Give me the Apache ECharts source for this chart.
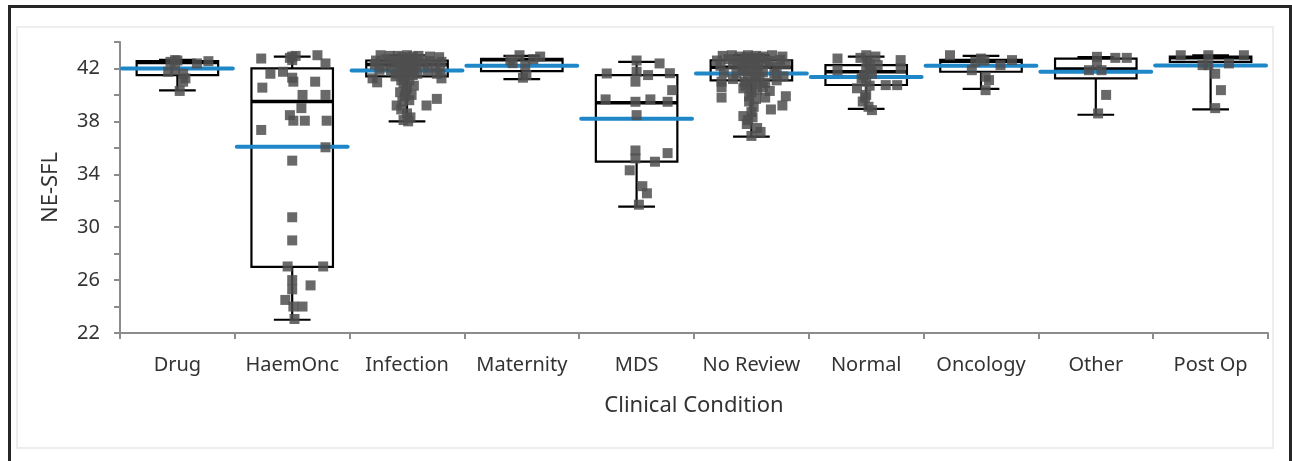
<!DOCTYPE html>
<html>
<head>
<meta charset="utf-8">
<script src="https://cdn.jsdelivr.net/npm/echarts@6/dist/echarts.min.js"></script>
<style>
html,body{margin:0;padding:0;background:#fff;}
#chart{width:1292px;height:461px;}
</style>
</head>
<body>
<div id="chart"></div>
<script>
// ---------- data ----------
var categories = ['Drug','HaemOnc','Infection','Maternity','MDS','No Review','Normal','Oncology','Other','Post Op'];
var boxMin    = [40.35, 23.0, 38.0, 41.2, 31.55, 36.85, 38.95, 40.45, 38.5, 38.9];
var boxQ1     = [41.5, 27.0, 41.4, 41.8, 34.95, 41.1, 40.75, 41.75, 41.25, 42.5];
var boxMedian = [42.45, 39.5, 42.3, 42.65, 39.4, 42.1, 41.75, 42.55, 41.95, 42.8];
var boxQ3     = [42.55, 42.0, 42.6, 42.72, 41.5, 42.62, 42.25, 42.65, 42.75, 42.9];
var boxMax    = [42.65, 42.9, 43.0, 42.95, 42.5, 43.0, 42.9, 42.95, 42.85, 43.0];
var means     = [42.0, 36.08, 41.85, 42.2, 38.2, 41.62, 41.35, 42.2, 41.75, 42.22];
var yTicks    = [22, 26, 30, 34, 38, 42];

// individual points: [jitter (category units), value]
var ptsDrug = [[-0.02,42.63],[0,42.6],[0.27,42.55],[0.17,42.38],[-0.06,42.5],[-0.08,41.75],[-0.02,41.87],[0.05,41.6],[0.07,41.25],[0.05,41.0],[0.02,40.3]];
var ptsHaemOnc = [[-0.27,42.75],[0,42.9],[-0.02,42.8],[0.03,42.95],[0.22,43.0],[0.29,42.38],[-0.19,41.6],[-0.08,41.75],[0,42.63],[0.01,41.0],[0,41.3],[0.2,41.0],[-0.26,40.55],[0.09,40.0],[0.29,40.0],[0.08,39.0],[-0.02,38.47],[0.01,38.05],[0.11,38.05],[0.3,38.05],[-0.27,37.35],[0.29,36.04],[0,35.03],[0,30.75],[0,29.0],[-0.04,27.03],[0.27,27.03],[0,26.0],[0.16,25.6],[0,25.3],[-0.06,24.5],[0.01,24.0],[0.09,24.0],[0.02,23.06]];
var ptsInfection = [[-0.23,43.0],[-0.15,42.95],[-0.08,42.95],[0,43.0],[0.05,42.9],[0.1,42.95],[0.2,42.9],[0.28,42.85],
  [-0.27,42.6],[-0.18,42.7],[-0.1,42.6],[-0.03,42.7],[0.03,42.75],[0.12,42.65],[0.2,42.55],[0.3,42.5],
  [-0.28,42.3],[-0.2,42.2],[-0.12,42.4],[-0.05,42.3],[0.02,42.4],[0.08,42.2],[0.15,42.35],[0.25,42.2],
  [-0.24,41.9],[-0.14,41.8],[-0.05,41.9],[0,41.7],[0.06,41.9],[0.18,41.8],[0.29,41.9],
  [-0.3,41.25],[-0.26,40.95],[-0.1,41.4],[-0.02,41.3],[0.05,41.5],[0.3,41.25],[0.26,41.6],
  [-0.03,40.9],[0,40.5],[-0.06,40.2],[-0.02,39.9],[0.02,39.6],[-0.09,39.2],[-0.05,38.9],[0,38.6],[0.03,38.3],[-0.03,38.1],[0.01,38.0],
  [0.17,39.2],[0.26,39.7],
  [-0.04,42.85],[0.04,42.6],[-0.07,42.45],[0.06,42.5],[0,42.15],[-0.04,42.0],[0.04,41.75],[0.09,41.6],[-0.08,41.6],[0.02,41.1],[-0.05,41.1],[0.06,40.7],[-0.01,40.3],[0.04,40.0],[-0.04,39.5]];
var ptsMaternity = [[-0.1,42.63],[-0.02,43.0],[0.16,42.9],[0.03,42.25],[-0.08,42.4],[0.04,41.5],[0.01,41.3],[0.1,42.7]];
var ptsMDS = [[0,42.6],[0.2,42.38],[-0.26,41.62],[0.29,41.64],[0.1,41.5],[0,41.75],[-0.01,41.0],[0.31,40.36],[-0.27,39.66],[0.12,39.66],[-0.01,39.48],[0.27,39.48],[0,38.47],[-0.01,35.8],[-0.01,35.2],[0.27,35.6],[0.16,34.95],[-0.06,34.3],[0.05,33.1],[0.09,32.56],[0.02,31.7]];
var ptsNoReview = [[-0.25,42.95],[-0.17,43.0],[-0.1,42.9],[-0.03,43.0],[0.04,42.95],[0.1,42.9],[0.18,43.0],[0.27,42.9],
  [-0.3,42.6],[-0.2,42.7],[-0.12,42.55],[-0.05,42.7],[0.02,42.6],[0.08,42.75],[0.16,42.55],[0.25,42.65],
  [-0.27,42.2],[-0.16,42.3],[-0.08,42.1],[0,42.3],[0.06,42.2],[0.13,42.35],[0.22,42.1],[0.3,42.3],
  [-0.24,41.7],[-0.13,41.6],[-0.04,41.8],[0.03,41.5],[0.1,41.7],[0.2,41.6],[0.28,41.4],
  [-0.26,41.0],[-0.16,41.2],[-0.06,41.0],[0.04,41.1],[0.12,40.9],[0.22,41.1],
  [-0.26,40.6],[-0.26,39.8],[-0.07,40.5],[0,40.2],[0.1,40.6],[0.12,39.8],[0.16,40.3],[0.3,39.9],[0.27,39.2],[0.17,38.9],
  [-0.02,39.5],[0.02,39.1],[-0.07,38.4],[0,38.7],[-0.03,38.1],[0.05,37.5],[0.08,37.2],[0,36.9],[-0.04,37.8],
  [-0.04,42.85],[0.05,42.8],[-0.08,42.45],[0.03,42.45],[-0.02,42.0],[0.05,41.95],[-0.07,41.85],[0.07,41.35],[-0.03,41.3],[0.01,40.8],[-0.05,40.7],[0.05,40.4],[-0.02,39.9],[0.04,39.7],[0.01,38.3]];
var ptsNormal = [[-0.25,42.75],[-0.25,41.87],[0,43.0],[0.01,42.5],[0.1,42.25],[0.3,42.63],[0.3,42.0],[0.17,40.74],[0.27,40.74],[-0.08,40.5],[0,40.0],[0.02,39.1],[0.05,38.85],[-0.04,41.25],[0,42.0],[0.05,41.6],[-0.05,42.8],[0.08,42.9],[0,41.0],[-0.03,39.5],[0.03,42.3],[-0.02,41.5],[0.03,40.7],[-0.01,39.8],[0.04,41.9]];
var ptsOncology = [[-0.27,43.0],[0,42.75],[0.03,42.6],[0.17,42.25],[0.27,42.63],[-0.08,41.87],[0.04,41.37],[0.07,41.12],[0.04,40.36],[-0.05,42.5]];
var ptsOther = [[0.01,42.88],[0.17,42.8],[0.27,42.8],[0.01,42.25],[-0.06,41.87],[0.05,41.87],[0.09,40.0],[0.02,38.6]];
var ptsPostOp = [[-0.26,43.0],[-0.02,43.0],[0.29,43.0],[-0.02,42.25],[0.16,42.38],[-0.07,42.25],[0.04,41.6],[0.09,40.36],[0.04,39.0]];
var pointGroups = [ptsDrug, ptsHaemOnc, ptsInfection, ptsMaternity, ptsMDS, ptsNoReview, ptsNormal, ptsOncology, ptsOther, ptsPostOp];

// ---------- build library data ----------
var boxData = categories.map(function(c,i){ return [i, boxMin[i], boxQ1[i], boxMedian[i], boxQ3[i], boxMax[i]]; });
var meanData = categories.map(function(c,i){ return [i, means[i]]; });
var scatterData = [];
pointGroups.forEach(function(g,i){ g.forEach(function(p){ scatterData.push([i + p[0], p[1]]); }); });

var chart = echarts.init(document.getElementById('chart'), null, {renderer:'canvas'});
var FONT = 'Noto Sans';
var option = {
  animation: false,
  backgroundColor: '#ffffff',
  graphic: [
    {type:'rect', silent:true, z:-10, shape:{x:17, y:27, width:1256, height:421}, style:{fill:'none', stroke:'#eeeeee', lineWidth:2}},
    {type:'rect', silent:true, z:100, shape:{x:9.5, y:6.5, width:1281, height:480}, style:{fill:'none', stroke:'#262626', lineWidth:3}}
  ],
  grid: {left:120, right:24, top:42, bottom:128},
  xAxis: [
    {type:'category', data:categories, boundaryGap:true,
     name:'Clinical Condition', nameLocation:'middle', nameGap:62,
     nameTextStyle:{fontFamily:FONT, fontSize:22, color:'#333333'},
     axisLine:{onZero:false, lineStyle:{color:'#8c8c8c', width:2}},
     axisTick:{show:true, interval:0, length:6, lineStyle:{color:'#8c8c8c', width:2}},
     axisLabel:{interval:0, margin:22, fontFamily:FONT, fontSize:20, color:'#333333'},
     splitLine:{show:false}},
    {type:'value', min:-0.5, max:9.5, show:false}
  ],
  yAxis: {type:'value', min:22, max:44, interval:2,
    name:'NE-SFL', nameLocation:'middle', nameGap:58,
    nameTextStyle:{fontFamily:FONT, fontSize:22, color:'#333333'},
    axisLine:{show:true, onZero:false, lineStyle:{color:'#8c8c8c', width:2}},
    axisTick:{show:true, length:6, lineStyle:{color:'#8c8c8c', width:2}},
    axisLabel:{margin:20, fontFamily:FONT, fontSize:20, color:'#333333',
      formatter:function(v){ return yTicks.indexOf(v) >= 0 ? String(v) : ''; }},
    splitLine:{show:false}},
  series: [
    {type:'custom', xAxisIndex:1, z:2, data:boxData,
     renderItem:function(params, api){
       var i = api.value(0);
       var w = api.size([1,0])[0];
       var bw = w*0.71, cw = w*0.32;
       var pMin = api.coord([i, api.value(1)]);
       var pQ1 = api.coord([i, api.value(2)]);
       var pMed = api.coord([i, api.value(3)]);
       var pQ3 = api.coord([i, api.value(4)]);
       var pMax = api.coord([i, api.value(5)]);
       var cx = pQ1[0];
       var st = {stroke:'#000000', lineWidth:2.2, fill:'none'};
       return {type:'group', children:[
         {type:'line', shape:{x1:cx, y1:pQ1[1], x2:cx, y2:pMin[1]}, style:st},
         {type:'line', shape:{x1:cx, y1:pQ3[1], x2:cx, y2:pMax[1]}, style:st},
         {type:'line', shape:{x1:cx-cw/2, y1:pMin[1], x2:cx+cw/2, y2:pMin[1]}, style:st},
         {type:'line', shape:{x1:cx-cw/2, y1:pMax[1], x2:cx+cw/2, y2:pMax[1]}, style:st},
         {type:'rect', shape:{x:cx-bw/2, y:pQ3[1], width:bw, height:pQ1[1]-pQ3[1]}, style:{stroke:'#000000', lineWidth:2.2, fill:'#ffffff'}},
         {type:'line', shape:{x1:cx-bw/2, y1:pMed[1], x2:cx+bw/2, y2:pMed[1]}, style:{stroke:'#000000', lineWidth:3.5}}
       ]};
     }},
    {type:'custom', xAxisIndex:1, z:3, data:meanData,
     renderItem:function(params, api){
       var i = api.value(0);
       var a = api.coord([i-0.5, api.value(1)]);
       var b = api.coord([i+0.5, api.value(1)]);
       return {type:'line', shape:{x1:a[0]+2, y1:a[1], x2:b[0]-2, y2:b[1]},
               style:{stroke:'#1f87c8', lineWidth:4, lineCap:'round'}};
     }},
    {type:'scatter', xAxisIndex:1, z:4, data:scatterData, symbol:'rect', symbolSize:10,
     itemStyle:{color:'#4f4f4f', opacity:0.85}}
  ]
};
chart.setOption(option);
</script>
</body>
</html>
